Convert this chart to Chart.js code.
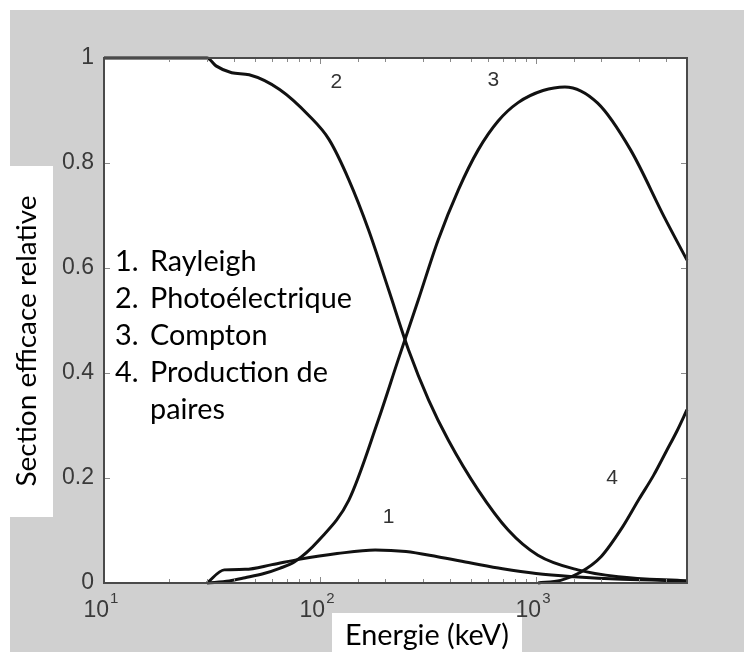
<!DOCTYPE html>
<html><head><meta charset="utf-8">
<script src="https://cdn.jsdelivr.net/npm/chart.js@4.4.0/dist/chart.umd.min.js"></script>
<style>html,body{margin:0;padding:0;background:#fff;overflow:hidden}canvas{display:block}</style>
</head><body>
<canvas id="c" width="744" height="652"></canvas>
<script>
// ---- data (energy in keV, relative cross-section) ----
const rayleighE = [30, 36, 45, 60, 80, 120, 180, 250, 350, 500, 700, 1000, 1500, 2500, 5000];
const rayleighV = [0, 0.025, 0.026, 0.035, 0.045, 0.056, 0.063, 0.06, 0.05, 0.038, 0.027, 0.018, 0.012, 0.007, 0.004];

const photoE = [10, 30, 33, 39, 47, 65, 89, 110, 136, 168, 208, 257, 318, 393, 540, 743, 1020, 1560, 2400, 5000];
const photoV = [1, 1, 0.985, 0.972, 0.968, 0.94, 0.89, 0.845, 0.768, 0.672, 0.558, 0.444, 0.349, 0.272, 0.177, 0.101, 0.053, 0.025, 0.012, 0.004];

const comptonE = [30, 38, 45, 55, 65, 76, 99, 136, 186, 230, 285, 352, 437, 540, 668, 826, 1077, 1360, 1930, 2740, 3925, 5000];
const comptonV = [0, 0.004, 0.01, 0.018, 0.028, 0.04, 0.082, 0.158, 0.31, 0.425, 0.539, 0.653, 0.749, 0.825, 0.88, 0.915, 0.938, 0.945, 0.914, 0.825, 0.697, 0.615];

const pairE = [1022, 1300, 1600, 2000, 2500, 3000, 3500, 4000, 4500, 5000];
const pairV = [0, 0.005, 0.02, 0.05, 0.105, 0.16, 0.205, 0.25, 0.29, 0.33];

const yTickValues = [0, 0.2, 0.4, 0.6, 0.8, 1];
const xTickBases = ['10', '10', '10'];
const xTickExps = ['1', '2', '3'];
const xTickValues = [10, 100, 1000];

const legendNums = ['1.', '2.', '3.', '4.', ''];
const legendNames = ['Rayleigh', 'Photoélectrique', 'Compton', 'Production de', 'paires'];

const curveLabels = ['1', '2', '3', '4'];
const curveLabelE = [208, 119, 634, 2250];
const curveLabelV = [0.126, 0.954, 0.958, 0.2];

const yTitle = 'Section efficace relative';
const xTitle = 'Energie (keV)';

// ---- helpers ----
const pts = (xs, ys) => xs.map((x, i) => ({x, y: ys[i]}));
function fitFont(ctx, text, target, family, base) {
  ctx.font = base + 'px ' + family;
  const w = ctx.measureText(text).width;
  return base * target / w;
}
const tickFont = '"Liberation Sans", Arial, sans-serif';

const framePlugin = {
  id: 'frame',
  beforeDraw(chart) {
    const ctx = chart.ctx, a = chart.chartArea;
    ctx.save();
    ctx.fillStyle = '#fff';
    ctx.fillRect(0, 0, chart.width, chart.height);
    ctx.fillStyle = '#d0d0d0';
    ctx.fillRect(10, 10, chart.width - 10, chart.height - 10);
    ctx.fillStyle = '#fff';
    ctx.fillRect(a.left, a.top, a.right - a.left, a.bottom - a.top);
    // y title box
    ctx.fillRect(10, 166, 43, 351);
    // x title box
    ctx.fillRect(332, 613, 190, 39);
    ctx.fillStyle = '#000';
    let fs = fitFont(ctx, yTitle, 291, 'Lato', 26);
    ctx.font = fs + 'px Lato';
    ctx.translate(36, 341);
    ctx.rotate(-Math.PI / 2);
    ctx.textAlign = 'center';
    ctx.textBaseline = 'alphabetic';
    ctx.fillText(yTitle, 0, 0);
    ctx.restore();
    ctx.save();
    fs = fitFont(ctx, xTitle, 164, 'Lato', 26);
    ctx.font = fs + 'px Lato';
    ctx.fillStyle = '#000';
    ctx.textAlign = 'center';
    ctx.textBaseline = 'alphabetic';
    ctx.fillText(xTitle, 427, 645);
    ctx.restore();
  },
  afterDatasetsDraw(chart) {
    const ctx = chart.ctx, a = chart.chartArea;
    const xs = chart.scales.x, ys = chart.scales.y;
    ctx.save();
    // inward ticks
    ctx.strokeStyle = '#8a8a8a';
    ctx.lineWidth = 1;
    ctx.beginPath();
    xs.ticks.forEach(t => {
      const px = Math.round(xs.getPixelForValue(t.value)) + 0.5;
      const major = xTickValues.includes(Math.round(t.value));
      const L = major ? 6 : 4;
      ctx.moveTo(px, a.bottom); ctx.lineTo(px, a.bottom - L);
      ctx.moveTo(px, a.top); ctx.lineTo(px, a.top + L);
    });
    yTickValues.forEach(v => {
      const py = Math.round(ys.getPixelForValue(v)) + 0.5;
      ctx.moveTo(a.left, py); ctx.lineTo(a.left + 6, py);
      ctx.moveTo(a.right, py); ctx.lineTo(a.right - 6, py);
    });
    ctx.stroke();
    // border
    ctx.strokeStyle = '#4a4a4a';
    ctx.lineWidth = 2;
    ctx.strokeRect(a.left, a.top, a.right - a.left, a.bottom - a.top);
    // x tick labels with superscript exponents
    ctx.fillStyle = '#3a3a3a';
    ctx.textBaseline = 'alphabetic';
    xTickValues.forEach((v, i) => {
      const px = xs.getPixelForValue(v);
      ctx.font = '23px ' + tickFont;
      const wb = ctx.measureText(xTickBases[i]).width;
      ctx.font = '15px ' + tickFont;
      const we = ctx.measureText(xTickExps[i]).width;
      const x0 = px - (wb + we + 1) / 2 - 3;
      ctx.textAlign = 'left';
      ctx.font = '23px ' + tickFont;
      ctx.fillText(xTickBases[i], x0, a.bottom + 34);
      ctx.font = '15px ' + tickFont;
      ctx.fillText(xTickExps[i], x0 + wb + 1, a.bottom + 20);
    });
    // curve numbers
    ctx.fillStyle = '#333';
    ctx.font = '21px ' + tickFont;
    ctx.textAlign = 'center';
    ctx.textBaseline = 'middle';
    curveLabels.forEach((s, i) => {
      ctx.fillText(s, xs.getPixelForValue(curveLabelE[i]), ys.getPixelForValue(curveLabelV[i]));
    });
    // legend text block
    const fs = fitFont(ctx, legendNames[1], 202, 'Lato', 26);
    ctx.font = fs + 'px Lato';
    ctx.fillStyle = '#000';
    ctx.textAlign = 'left';
    ctx.textBaseline = 'alphabetic';
    legendNames.forEach((s, i) => {
      const by = 271 + i * 37;
      if (legendNums[i]) ctx.fillText(legendNums[i], 115, by);
      ctx.fillText(s, 150, by);
    });
    ctx.restore();
  }
};

const lineStyle = {borderColor: '#111', borderWidth: 3, pointRadius: 0, fill: false,
  cubicInterpolationMode: 'monotone', clip: 4};

new Chart(document.getElementById('c'), {
  type: 'line',
  data: {
    datasets: [
      Object.assign({label: 'Rayleigh', data: pts(rayleighE, rayleighV)}, lineStyle),
      Object.assign({label: 'Photoélectrique', data: pts(photoE, photoV)}, lineStyle),
      Object.assign({label: 'Compton', data: pts(comptonE, comptonV)}, lineStyle),
      Object.assign({label: 'Production de paires', data: pts(pairE, pairV)}, lineStyle)
    ]
  },
  options: {
    responsive: false,
    animation: false,
    events: [],
    layout: {padding: {top: 58, right: 57, left: 0, bottom: 0}},
    plugins: {legend: {display: false}, tooltip: {enabled: false}, title: {display: false}},
    scales: {
      x: {
        type: 'logarithmic', min: 10, max: 5000,
        grid: {display: false, drawTicks: false},
        border: {display: false},
        ticks: {display: false, autoSkip: false},
        afterFit: (s) => { s.height = 69; }
      },
      y: {
        min: 0, max: 1,
        grid: {display: false, drawTicks: false},
        border: {display: false},
        ticks: {
          stepSize: 0.2, padding: 10, color: '#3a3a3a',
          font: {family: tickFont, size: 23},
          callback: (v) => String(Math.round(v * 10) / 10)
        },
        afterFit: (s) => { s.width = 104; }
      }
    }
  },
  plugins: [framePlugin]
});
</script>
</body></html>
